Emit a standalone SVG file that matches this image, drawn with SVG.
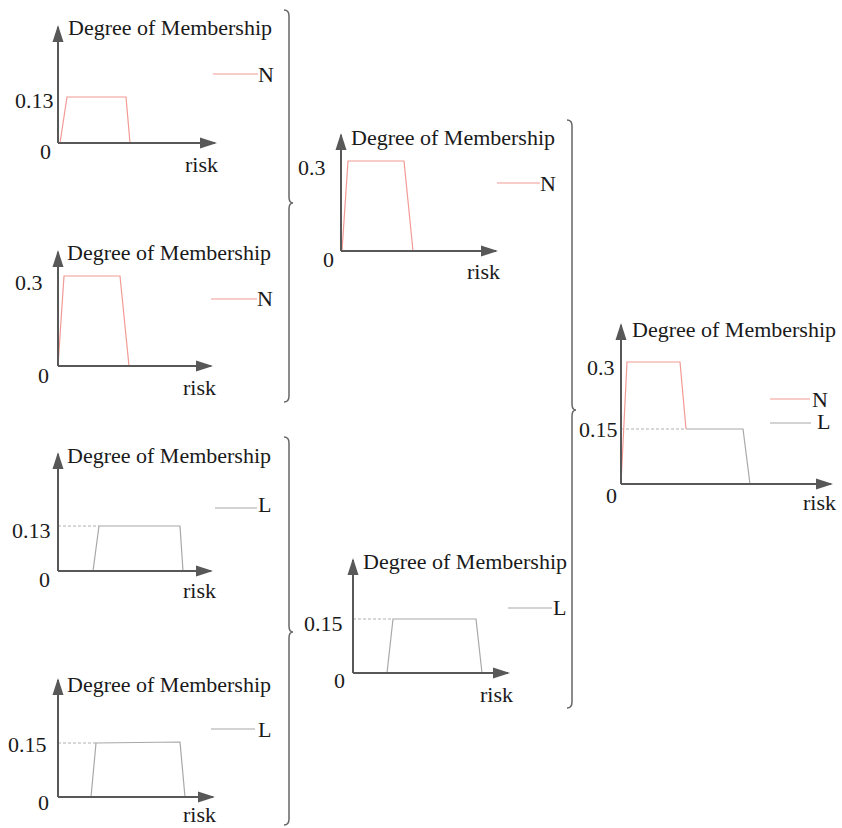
<svg xmlns="http://www.w3.org/2000/svg" width="842" height="828" viewBox="0 0 842 828">
<defs>
<marker id="ah" markerUnits="userSpaceOnUse" markerWidth="18" markerHeight="12" refX="15" refY="6" orient="auto">
<path d="M0,0.5 L17,6 L0,11.5 z" fill="#585858"/>
</marker>
<style>
text{font-family:"Liberation Serif","Times New Roman",serif;font-size:22px;fill:#1a1a1a}
.ax{stroke:#585858;stroke-width:2;fill:none;marker-end:url(#ah)}
.n{stroke:#f29a94;stroke-width:1.2;fill:none}
.l{stroke:#a8a8a8;stroke-width:1.2;fill:none}
.d{stroke:#b0b0b0;stroke-width:1;stroke-dasharray:3,2;fill:none}
.br{stroke:#666;stroke-width:1.5;fill:none}
</style>
</defs>
<rect width="842" height="828" fill="#fff"/>

<g id="chart1">
<path class="n" d="M60,143 L67,97 L126,97 L130,143"/>
<path class="ax" d="M58,143 L58,27"/>
<path class="ax" d="M58,143 L215,143"/>
<line class="n" x1="213" y1="74" x2="258" y2="74"/>
<text x="68" y="35">Degree of Membership</text>
<text x="258" y="82">N</text>
<text x="15" y="108">0.13</text>
<text x="40" y="159">0</text>
<text x="185" y="172">risk</text>
</g>

<g id="chart2">
<path class="n" d="M58,366 L64,276 L120,276 L129,366"/>
<path class="ax" d="M58,366 L58,252"/>
<path class="ax" d="M58,366 L211,366"/>
<line class="n" x1="211" y1="299" x2="257" y2="299"/>
<text x="67" y="260">Degree of Membership</text>
<text x="257" y="306">N</text>
<text x="15" y="290">0.3</text>
<text x="38" y="383">0</text>
<text x="183" y="395">risk</text>
</g>

<g id="chart3">
<line class="d" x1="58" y1="526" x2="99" y2="526"/>
<path class="l" d="M93,571 L99,526 L180,526 L183,571"/>
<path class="ax" d="M58,571 L58,454"/>
<path class="ax" d="M58,571 L211,571"/>
<line class="l" x1="215" y1="508" x2="257" y2="508"/>
<text x="67" y="463">Degree of Membership</text>
<text x="258" y="512">L</text>
<text x="12" y="538">0.13</text>
<text x="39" y="587">0</text>
<text x="183" y="598">risk</text>
</g>

<g id="chart4">
<line class="d" x1="58" y1="743" x2="96" y2="743"/>
<path class="l" d="M91,797 L96,743 L180,742 L185,797"/>
<path class="ax" d="M58,797 L58,680"/>
<path class="ax" d="M58,797 L213,797"/>
<line class="l" x1="211" y1="729" x2="255" y2="729"/>
<text x="67" y="692">Degree of Membership</text>
<text x="258" y="737">L</text>
<text x="8" y="752">0.15</text>
<text x="38" y="810">0</text>
<text x="183" y="822">risk</text>
</g>

<g id="chart5">
<path class="n" d="M342,251 L348,161 L404,161 L413,251"/>
<path class="ax" d="M341,251 L341,135"/>
<path class="ax" d="M341,251 L496,251"/>
<line class="n" x1="497" y1="183" x2="540" y2="183"/>
<text x="351" y="145">Degree of Membership</text>
<text x="540" y="191">N</text>
<text x="298" y="175">0.3</text>
<text x="323" y="267">0</text>
<text x="467" y="279">risk</text>
</g>

<g id="chart6">
<line class="d" x1="353" y1="619" x2="393" y2="619"/>
<path class="l" d="M387,673 L393,619 L476,619 L482,673"/>
<path class="ax" d="M353,673 L353,560"/>
<path class="ax" d="M353,673 L508,673"/>
<line class="l" x1="508" y1="608" x2="552" y2="608"/>
<text x="363" y="569">Degree of Membership</text>
<text x="553" y="615">L</text>
<text x="304" y="631">0.15</text>
<text x="334" y="688">0</text>
<text x="480" y="702">risk</text>
</g>

<g id="chart7">
<line class="d" x1="621" y1="429" x2="686" y2="429"/>
<path class="l" d="M686,429 L743,429 L750,484"/>
<path class="n" d="M621,484 L627,362 L680,362 L686,429"/>
<path class="ax" d="M621,484 L621,325"/>
<path class="ax" d="M621,484 L831,484"/>
<line class="n" x1="770" y1="399" x2="810" y2="399"/>
<line class="l" x1="770" y1="423" x2="811" y2="423"/>
<text x="632" y="337">Degree of Membership</text>
<text x="812" y="407">N</text>
<text x="817" y="429">L</text>
<text x="587" y="375">0.3</text>
<text x="579" y="437">0.15</text>
<text x="606" y="503">0</text>
<text x="803" y="510">risk</text>
</g>

<g id="connectors">
<path class="br" d="M284,10 Q289,10 289,16 L289,197 Q289,203 293,203 Q289,203 289,209 L289,396 Q289,402 284,402"/>
<path class="br" d="M284,437 Q289,437 289,443 L289,626 Q289,632 293,632 Q289,632 289,638 L289,819 Q289,825 284,825"/>
<path class="br" d="M567,120 Q572,120 572,126 L572,404 Q572,410 576,410 Q572,410 572,416 L572,702 Q572,708 567,708"/>
</g>
</svg>
